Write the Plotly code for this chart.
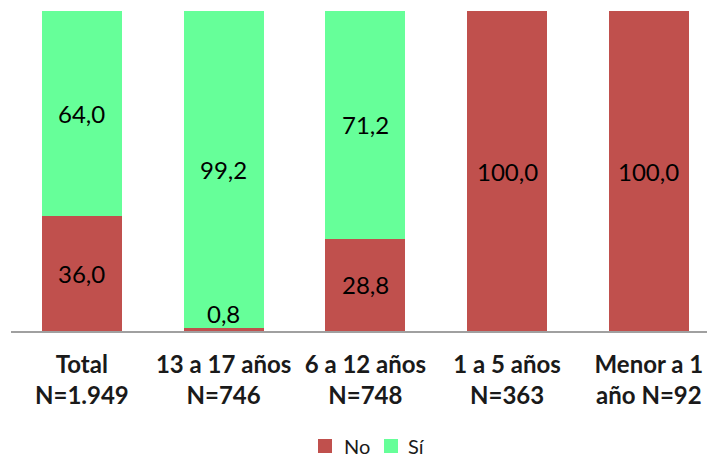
import plotly.graph_objects as go

categories = ["Total<br>N=1.949", "13 a 17 años<br>N=746", "6 a 12 años<br>N=748",
              "1 a 5 años<br>N=363", "Menor a 1<br>año N=92"]
series_names = ["No", "Sí"]
no_vals = [36.0, 0.8, 28.8, 100.0, 100.0]
si_vals = [64.0, 99.2, 71.2, 0.0, 0.0]

RED = "#C0504D"
GREEN = "#66FF99"
FONT = "Lato, Carlito, sans-serif"

fig = go.Figure()
fig.add_trace(go.Bar(name=series_names[0], x=categories, y=no_vals, marker_color=RED,
                     marker_line_width=0))
fig.add_trace(go.Bar(name=series_names[1], x=categories, y=si_vals, marker_color=GREEN,
                     marker_line_width=0))

def fmt(v):
    return f"{v:.1f}".replace(".", ",")

annotations = []
for i, c in enumerate(categories):
    base = 0.0
    for v in (no_vals[i], si_vals[i]):
        if v > 0:
            mid = max(base + v / 2, 5.6)
            annotations.append(dict(x=c, y=mid, xref="x", yref="y", text=fmt(v),
                                    showarrow=False,
                                    font=dict(family=FONT, size=24, color="#000000")))
        base += v

# custom legend (pixel positions converted to paper coordinates)
W0, PW = 11, 696
H0, PH = 331, 320
def px(x):
    return (x - W0) / PW
def py(y):
    return (H0 - y) / PH

shapes = []
legend_items = [(series_names[0], RED, 318, 342), (series_names[1], GREEN, 384, 406)]
for name, col, sx, tx in legend_items:
    shapes.append(dict(type="rect", xref="paper", yref="paper",
                       x0=px(sx), x1=px(sx + 14), y0=py(453), y1=py(439),
                       fillcolor=col, line_width=0))
    annotations.append(dict(x=px(tx), y=py(446), xref="paper", yref="paper",
                            xanchor="left", yanchor="middle", text=name, showarrow=False,
                            font=dict(family=FONT, size=20, color="#1a1a1a")))

fig.update_layout(
    barmode="stack",
    bargap=0.435,
    width=707, height=459,
    margin=dict(l=11, r=0, t=11, b=128),
    paper_bgcolor="white", plot_bgcolor="white",
    annotations=annotations,
    shapes=shapes,
    showlegend=False,
    font=dict(family=FONT),
)
fig.update_xaxes(range=[-0.5, 4.41], showline=True, linecolor="#A0A0A0", linewidth=2,
                 ticks="outside", ticklen=11, tickcolor="rgba(0,0,0,0)",
                 tickfont=dict(family=FONT, size=24, color="#1a1a1a"),
                 tickprefix="<b>", ticksuffix="</b>", showgrid=False)
fig.update_yaxes(range=[0, 100], visible=False)

fig.write_html("out.html")
